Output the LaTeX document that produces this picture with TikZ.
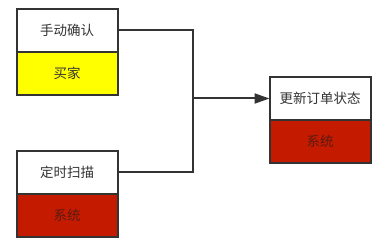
\documentclass[tikz,border=0pt]{standalone}
\usepackage{fontspec}
\setmainfont{Noto Sans CJK SC}
\usetikzlibrary{positioning,arrows.meta}
\usepackage{xcolor}
\definecolor{edge}{HTML}{333333}
\definecolor{buyer}{HTML}{FFFF00}
\definecolor{sysred}{HTML}{C41A00}
\definecolor{sysfg}{HTML}{5C1A12}

\tikzset{
  task/.style={draw=edge,fill=white,line width=2pt,minimum width=101pt,minimum height=43pt,
    inner sep=0pt,outer sep=0pt,text=edge,font=\fontsize{13.5}{15}\selectfont},
  actor/.style={task,below=0pt of #1},
  link/.style={draw=edge,line width=2pt}
}

\begin{document}
\begin{tikzpicture}[x=1pt,y=-1pt]
  \useasboundingbox (0,0) rectangle (383,245);
  % left column
  \node[task] (manual) at (67,30.5) {手动确认};
  \node[actor=manual,fill=buyer] (buyer) {买家};
  \node[task] (timer) at (67,172.5) {定时扫描};
  \node[actor=timer,fill=sysred,text=sysfg] (timersys) {系统};
  % right column
  \node[task] (update) at (320,98.5) {更新订单状态};
  \node[actor=update,fill=sysred,text=sysfg] (updatesys) {系统};
  % connectors
  \coordinate (join) at (193,98.5);
  \draw[link] (manual.east) -| (join);
  \draw[link] (timer.east) -| (join);
  \draw[link,-{Triangle[length=15pt,width=10pt]}] (join) -- (update.west);
\end{tikzpicture}
\end{document}
